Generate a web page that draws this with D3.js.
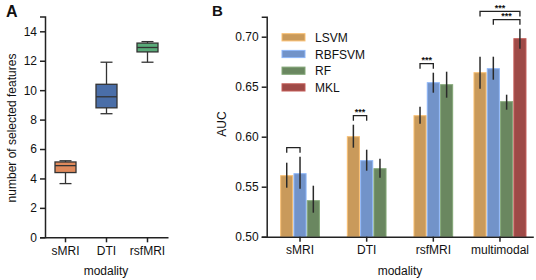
<!DOCTYPE html>
<html lang="en">
<head>
<meta charset="UTF-8">
<title>Selected features and AUC</title>
<script src="https://d3js.org/d3.v7.min.js"></script>
<style>
  body { margin: 0; background: #fff; font-family: "Liberation Sans", Arial, sans-serif; }
  svg text { fill: #111; }
</style>
</head>
<body>
<div id="chart"></div>
<script>
// panel A: boxplot data (number of selected features)
const boxCats = ["sMRI", "DTI", "rsfMRI"];
const boxColors = ["#e08a5c", "#4a6ea8", "#5aab79"];
const boxMin = [3.65, 8.4, 11.9];
const boxQ1 = [4.4, 8.8, 12.6];
const boxMed = [4.87, 9.55, 12.9];
const boxQ3 = [5.12, 10.4, 13.2];
const boxMax = [5.2, 11.9, 13.3];
const boxTicks = [0, 2, 4, 6, 8, 10, 12, 14];

// panel B: AUC bars
const modalities = ["sMRI", "DTI", "rsfMRI", "multimodal"];
const methods = ["LSVM", "RBFSVM", "RF", "MKL"];
const methodColors = ["#c99a5b", "#7293c9", "#6a8760", "#9e4a47"];
const aucLSVM = [0.561, 0.600, 0.621, 0.664];
const aucRBFSVM = [0.563, 0.576, 0.654, 0.668];
const aucRF = [0.536, 0.568, 0.652, 0.635];
const aucMKL = [null, null, null, 0.698];
const errLSVM = [[0.549, 0.574], [0.589, 0.612], [0.613, 0.630], [0.648, 0.680]];
const errRBFSVM = [[0.548, 0.580], [0.566, 0.587], [0.644, 0.664], [0.657, 0.680]];
const errRF = [[0.524, 0.551], [0.559, 0.578], [0.639, 0.665], [0.627, 0.642]];
const errMKL = [null, null, null, [0.688, 0.708]];
const aucTicks = [0.50, 0.55, 0.60, 0.65, 0.70];
// significance brackets: modality, from method, to method, level, label
const brackets = [
  { mod: "sMRI", a: "LSVM", b: "RBFSVM", level: 0, label: "" },
  { mod: "DTI", a: "LSVM", b: "RBFSVM", level: 0, label: "***" },
  { mod: "rsfMRI", a: "LSVM", b: "RBFSVM", level: 0, label: "***" },
  { mod: "multimodal", a: "LSVM", b: "MKL", level: 1, label: "***" },
  { mod: "multimodal", a: "RBFSVM", b: "MKL", level: 0, label: "***" }
];

const aucSeries = [aucLSVM, aucRBFSVM, aucRF, aucMKL];
const errSeries = [errLSVM, errRBFSVM, errRF, errMKL];

const svg = d3.select("#chart").append("svg")
  .attr("width", 536).attr("height", 280);

// ---------- panel A ----------
const ya = d3.scaleLinear().domain([0, 15]).range([237.3, 16.6]);
const xa = d3.scaleBand().domain(boxCats).range([45, 168]);

const gA = svg.append("g");
const axA = gA.append("g").attr("transform", "translate(45,0)")
  .call(d3.axisLeft(ya).tickValues(boxTicks).tickSize(5).tickPadding(3));
const axAx = gA.append("g").attr("transform", "translate(0,237.3)")
  .call(d3.axisBottom(xa).tickSize(5).tickPadding(4).tickSizeOuter(0));
[axA, axAx].forEach(a => {
  a.select(".domain").attr("stroke", "#222").attr("stroke-width", 1.5);
  a.selectAll(".tick line").attr("stroke", "#222").attr("stroke-width", 1.5);
  a.selectAll(".tick text").attr("font-size", 12).attr("fill", "#111")
    .attr("font-family", "Liberation Sans, Arial, sans-serif");
});

const boxW = 21;
boxCats.forEach((c, i) => {
  const cx = xa(c) + xa.bandwidth() / 2;
  const g = gA.append("g").attr("stroke", "#333").attr("stroke-width", 1.3);
  g.append("line").attr("x1", cx).attr("x2", cx).attr("y1", ya(boxMin[i])).attr("y2", ya(boxMax[i]));
  g.append("line").attr("x1", cx - 6).attr("x2", cx + 6).attr("y1", ya(boxMin[i])).attr("y2", ya(boxMin[i]));
  g.append("line").attr("x1", cx - 6).attr("x2", cx + 6).attr("y1", ya(boxMax[i])).attr("y2", ya(boxMax[i]));
  g.append("rect").attr("x", cx - boxW / 2).attr("width", boxW)
    .attr("y", ya(boxQ3[i])).attr("height", ya(boxQ1[i]) - ya(boxQ3[i]))
    .attr("fill", boxColors[i]);
  g.append("line").attr("x1", cx - boxW / 2).attr("x2", cx + boxW / 2)
    .attr("y1", ya(boxMed[i])).attr("y2", ya(boxMed[i]));
});

gA.append("text").attr("x", 6).attr("y", 17).attr("font-size", 16)
  .attr("font-weight", "bold").text("A");
gA.append("text").attr("transform", "translate(16,128) rotate(-90)")
  .attr("text-anchor", "middle").attr("font-size", 12).text("number of selected features");
gA.append("text").attr("x", 106).attr("y", 275).attr("text-anchor", "middle")
  .attr("font-size", 12).text("modality");

// ---------- panel B ----------
const yb = d3.scaleLinear().domain([0.5, 0.72]).range([236.7, 16.7]);
const xb = d3.scaleBand().domain(modalities).range([266.7, 533.3]);
const barW = 13.3;

const gB = svg.append("g");

// bars
modalities.forEach((m, mi) => {
  const active = methods.map((_, k) => k).filter(k => aucSeries[k][mi] != null);
  const cx = xb(m) + xb.bandwidth() / 2;
  const x0 = cx - active.length * barW / 2;
  active.forEach((k, j) => {
    const v = aucSeries[k][mi];
    gB.append("rect")
      .attr("x", x0 + j * barW + 0.6).attr("width", barW - 1.2)
      .attr("y", yb(v)).attr("height", yb(0.5) - yb(v))
      .attr("fill", methodColors[k])
      .attr("stroke", d3.color(methodColors[k]).brighter(0.6))
      .attr("stroke-width", 1);
  });
  active.forEach((k, j) => {
    const e = errSeries[k][mi];
    const bx = x0 + j * barW + barW / 2;
    gB.append("line").attr("x1", bx).attr("x2", bx)
      .attr("y1", yb(e[0])).attr("y2", yb(e[1]))
      .attr("stroke", "#2a2a2a").attr("stroke-width", 1.5);
  });
});

function barCenter(mod, method) {
  const mi = modalities.indexOf(mod);
  const active = methods.map((_, k) => k).filter(k => aucSeries[k][mi] != null);
  const cx = xb(mod) + xb.bandwidth() / 2;
  const x0 = cx - active.length * barW / 2;
  const j = active.indexOf(methods.indexOf(method));
  return x0 + j * barW + barW / 2;
}

// brackets
brackets.forEach(b => {
  const mi = modalities.indexOf(b.mod);
  const ka = methods.indexOf(b.a), kb = methods.indexOf(b.b);
  const top = Math.max(errSeries[ka][mi][1], errSeries[kb][mi][1]);
  const yTop = yb(top) - 9 - b.level * 8.3;
  const x1 = barCenter(b.mod, b.a), x2 = barCenter(b.mod, b.b);
  gB.append("path")
    .attr("d", `M${x1},${yTop + 5}V${yTop}H${x2}V${yTop + 5}`)
    .attr("fill", "none").attr("stroke", "#222").attr("stroke-width", 1.3);
  if (b.label) {
    gB.append("text").attr("x", (x1 + x2) / 2).attr("y", yTop - 0.5)
      .attr("text-anchor", "middle").attr("font-size", 9).attr("font-weight", "bold")
      .text(b.label);
  }
});

const axB = gB.append("g").attr("transform", "translate(266.7,0)")
  .call(d3.axisLeft(yb).tickValues(aucTicks).tickFormat(d3.format(".2f")).tickSize(5).tickPadding(3));
const axBx = gB.append("g").attr("transform", "translate(0,236.7)")
  .call(d3.axisBottom(xb).tickSize(5).tickPadding(4).tickSizeOuter(0));
[axB, axBx].forEach(a => {
  a.select(".domain").attr("stroke", "#222").attr("stroke-width", 1.5);
  a.selectAll(".tick line").attr("stroke", "#222").attr("stroke-width", 1.5);
  a.selectAll(".tick text").attr("font-size", 12).attr("fill", "#111")
    .attr("font-family", "Liberation Sans, Arial, sans-serif");
});

// legend
const leg = gB.append("g");
methods.forEach((m, k) => {
  const y = 37.3 + k * 16.7;
  leg.append("rect").attr("x", 282).attr("y", y - 3.6).attr("width", 23).attr("height", 7.2)
    .attr("fill", methodColors[k])
    .attr("stroke", d3.color(methodColors[k]).brighter(0.6)).attr("stroke-width", 1);
  leg.append("text").attr("x", 315).attr("y", y + 4.5).attr("font-size", 12).text(m);
});

gB.append("text").attr("x", 212).attr("y", 15.5).attr("font-size", 15)
  .attr("font-weight", "bold").text("B");
gB.append("text").attr("transform", "translate(225.5,124) rotate(-90)")
  .attr("text-anchor", "middle").attr("font-size", 12).text("AUC");
gB.append("text").attr("x", 400).attr("y", 275).attr("text-anchor", "middle")
  .attr("font-size", 12).text("modality");
</script>
</body>
</html>
